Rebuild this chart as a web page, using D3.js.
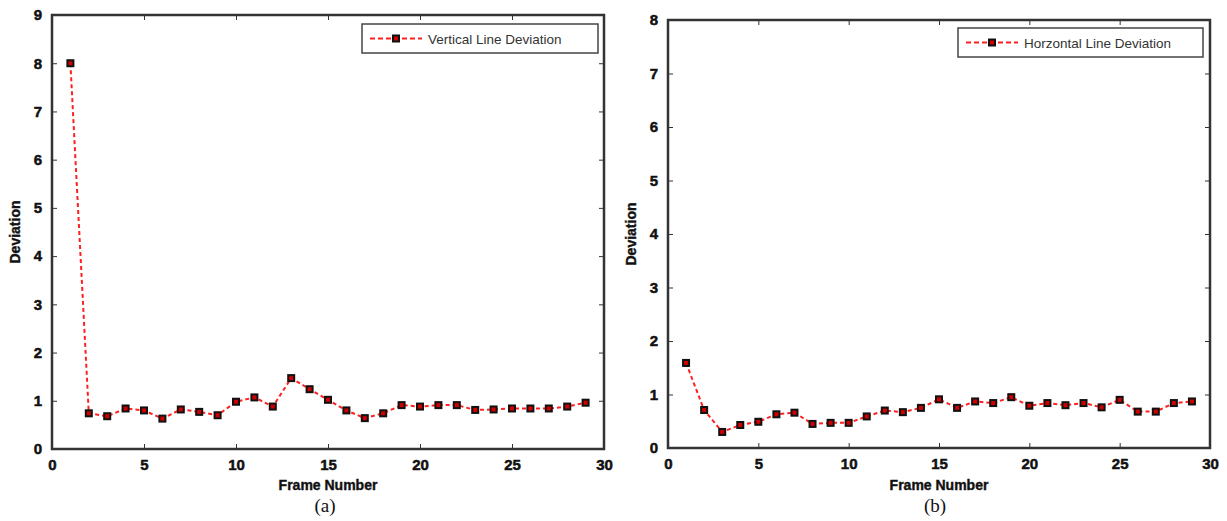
<!DOCTYPE html>
<html>
<head>
<meta charset="utf-8">
<script src="https://cdn.jsdelivr.net/npm/d3@7/dist/d3.min.js"></script>
<style>
  html, body { margin: 0; padding: 0; background: #fff; }
  svg { display: block; }
  .tick text { font-family: "Liberation Sans", Arial, sans-serif; font-weight: bold; font-size: 15px; fill: #111; stroke: #111; stroke-width: 0.5px; }
</style>
</head>
<body>
<svg id="chart" width="1227" height="521"></svg>
<script>
// Frame indices shared by both panels
const frames = d3.range(1, 30);

// Panel (a): vertical line deviation per frame
const verticalDeviation = [8.0, 0.74, 0.68, 0.84, 0.80, 0.63, 0.82, 0.77, 0.70, 0.98,
  1.07, 0.88, 1.47, 1.24, 1.02, 0.80, 0.64, 0.74, 0.91, 0.88,
  0.91, 0.91, 0.81, 0.82, 0.84, 0.84, 0.84, 0.88, 0.96];

// Panel (b): horizontal line deviation per frame
const horizontalDeviation = [1.59, 0.71, 0.30, 0.43, 0.49, 0.63, 0.66, 0.45, 0.47, 0.47,
  0.59, 0.70, 0.67, 0.75, 0.91, 0.75, 0.87, 0.84, 0.95, 0.79,
  0.84, 0.80, 0.84, 0.76, 0.90, 0.68, 0.68, 0.84, 0.87];

const xTicks = [0, 5, 10, 15, 20, 25, 30];
const yTicksA = d3.range(0, 10);
const yTicksB = d3.range(0, 9);

const panels = [
  { values: verticalDeviation, yMax: 9, yTicks: yTicksA, legend: "Vertical Line Deviation",
    caption: "(a)", box: { x0: 52, x1: 604, y0: 15, y1: 449 },
    legendBox: { x: 362, y: 24, w: 236, h: 29 }, yLabelX: 20, captionX: 325 },
  { values: horizontalDeviation, yMax: 8, yTicks: yTicksB, legend: "Horzontal Line Deviation",
    caption: "(b)", box: { x0: 668, x1: 1210, y0: 20, y1: 448 },
    legendBox: { x: 958, y: 28, w: 245, h: 29 }, yLabelX: 636, captionX: 935 }
];

const svg = d3.select("#chart");
const axisColor = "#333";

function marker(sel) {
  sel.attr("width", 6).attr("height", 6)
    .attr("fill", "#d00000").attr("stroke", "#111").attr("stroke-width", 2);
}

panels.forEach(p => {
  const b = p.box;
  const x = d3.scaleLinear().domain([0, 30]).range([b.x0, b.x1]);
  const y = d3.scaleLinear().domain([0, p.yMax]).range([b.y1, b.y0]);
  const g = svg.append("g");

  // Axes with inward ticks on all four sides
  const bottom = g.append("g").attr("transform", `translate(0,${b.y1})`)
    .call(d3.axisBottom(x).tickValues(xTicks).tickSize(-5).tickPadding(10).tickFormat(d3.format("d")));
  const top = g.append("g").attr("transform", `translate(0,${b.y0})`)
    .call(d3.axisTop(x).tickValues(xTicks).tickSize(-5).tickFormat(""));
  const left = g.append("g").attr("transform", `translate(${b.x0},0)`)
    .call(d3.axisLeft(y).tickValues(p.yTicks).tickSize(-5).tickPadding(10).tickFormat(d3.format("d")));
  const right = g.append("g").attr("transform", `translate(${b.x1},0)`)
    .call(d3.axisRight(y).tickValues(p.yTicks).tickSize(-5).tickFormat(""));
  [bottom, top, left, right].forEach(a => {
    a.select(".domain").remove();
    a.selectAll(".tick line").attr("stroke", axisColor).attr("stroke-width", 1);
  });

  // Frame of the plot area
  g.append("rect")
    .attr("x", b.x0).attr("y", b.y0)
    .attr("width", b.x1 - b.x0).attr("height", b.y1 - b.y0)
    .attr("fill", "none").attr("stroke", axisColor).attr("stroke-width", 2.5);

  // Dashed series line
  const line = d3.line().x((d, i) => x(frames[i])).y(d => y(d));
  g.append("path").datum(p.values)
    .attr("d", line)
    .attr("fill", "none").attr("stroke", "#ff2020")
    .attr("stroke-width", 2).attr("stroke-dasharray", "4,3");

  // Square markers
  g.selectAll("rect.mk").data(p.values).join("rect")
    .attr("class", "mk")
    .attr("x", (d, i) => x(frames[i]) - 3)
    .attr("y", d => y(d) - 3)
    .call(marker);

  // Legend
  const lb = p.legendBox;
  g.append("rect").attr("x", lb.x).attr("y", lb.y).attr("width", lb.w).attr("height", lb.h)
    .attr("fill", "#fff").attr("stroke", "#444").attr("stroke-width", 1.5);
  const ly = lb.y + lb.h / 2;
  g.append("line").attr("x1", lb.x + 8).attr("x2", lb.x + 60).attr("y1", ly).attr("y2", ly)
    .attr("stroke", "#ff2020").attr("stroke-width", 2).attr("stroke-dasharray", "5,3");
  g.append("rect").attr("x", lb.x + 31).attr("y", ly - 3).call(marker);
  g.append("text").attr("x", lb.x + 66).attr("y", ly + 5)
    .attr("font-family", "Liberation Sans, Arial, sans-serif").attr("font-size", 13.5)
    .attr("fill", "#333").text(p.legend);

  // Axis titles
  g.append("text")
    .attr("transform", `translate(${p.yLabelX},${(b.y0 + b.y1) / 2}) rotate(-90)`)
    .attr("text-anchor", "middle")
    .attr("font-family", "Liberation Sans, Arial, sans-serif").attr("font-weight", "bold")
    .attr("font-size", 14).attr("fill", "#111").attr("stroke", "#111").attr("stroke-width", 0.4)
    .text("Deviation");
  g.append("text")
    .attr("x", (b.x0 + b.x1) / 2).attr("y", 490)
    .attr("text-anchor", "middle")
    .attr("font-family", "Liberation Sans, Arial, sans-serif").attr("font-weight", "bold")
    .attr("font-size", 14).attr("fill", "#111").attr("stroke", "#111").attr("stroke-width", 0.4)
    .text("Frame Number");

  // Panel caption
  g.append("text")
    .attr("x", p.captionX).attr("y", 512)
    .attr("text-anchor", "middle")
    .attr("font-family", "Liberation Serif, Times New Roman, serif")
    .attr("font-size", 19).attr("fill", "#111").text(p.caption);
});
</script>
</body>
</html>
